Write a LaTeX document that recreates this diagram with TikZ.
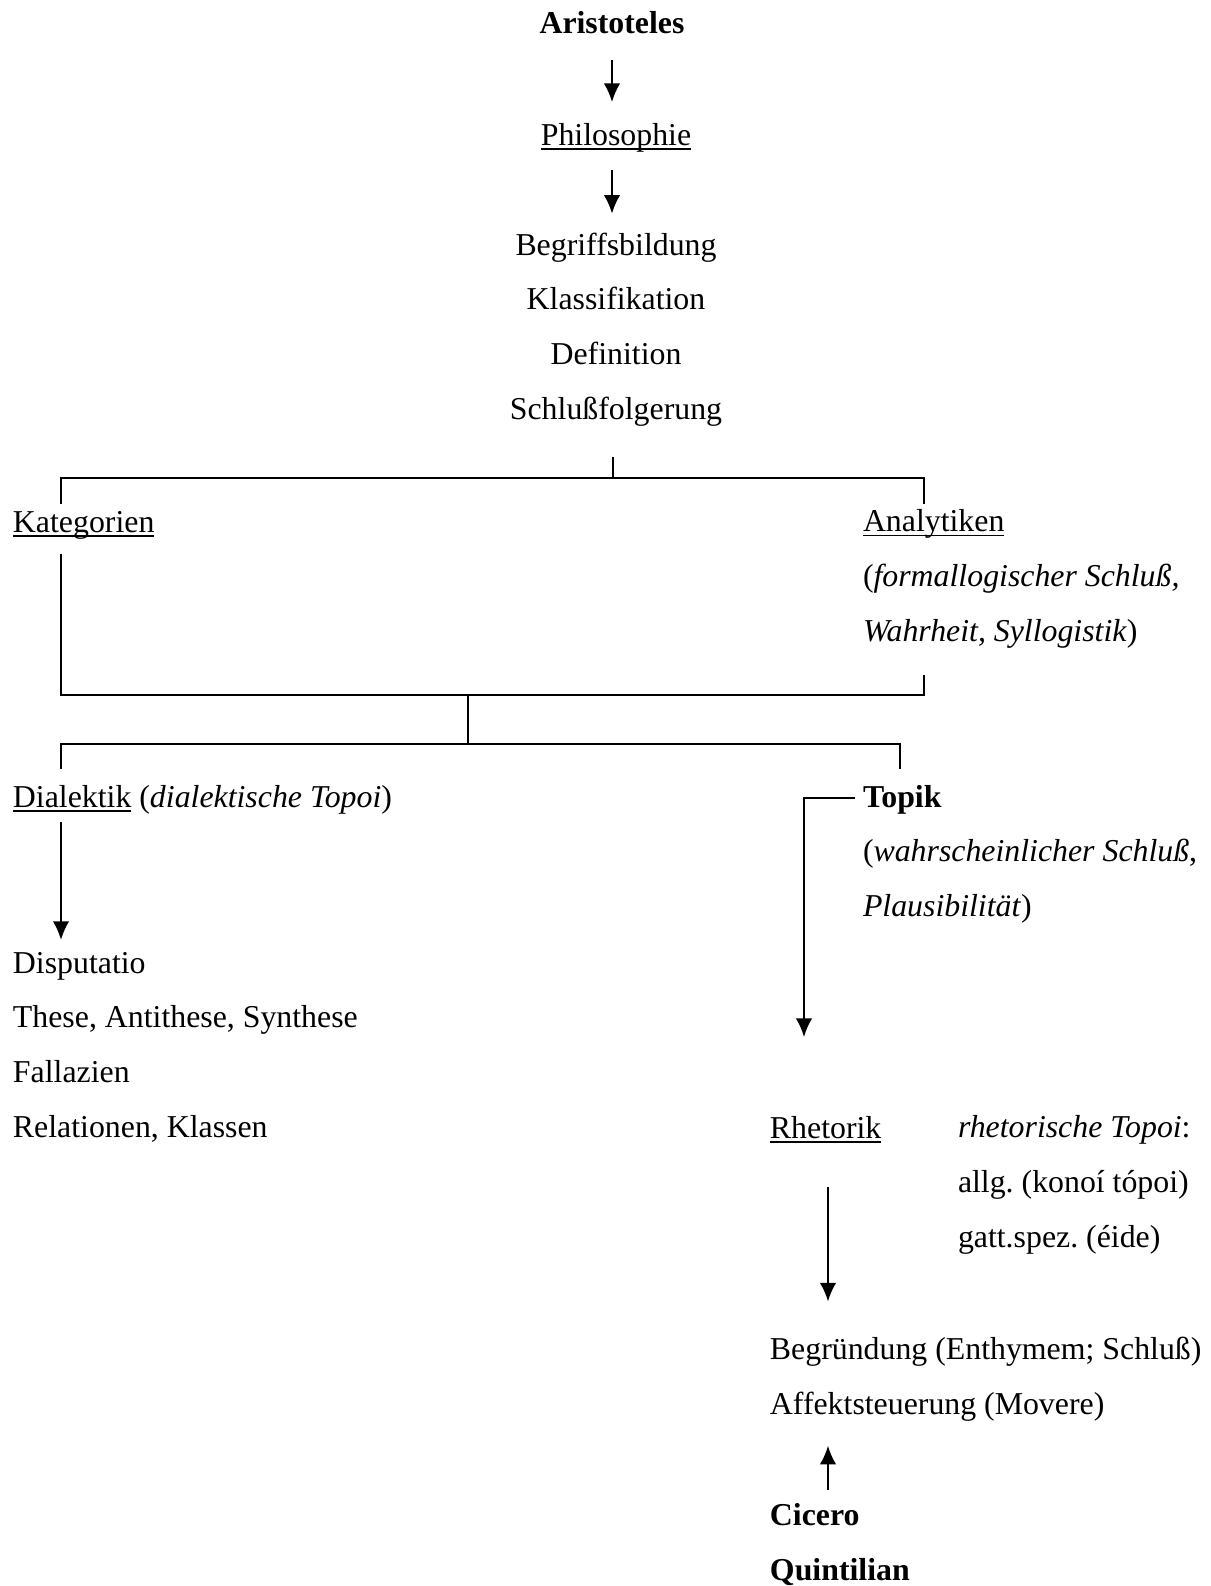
\documentclass[tikz,border=0pt]{standalone}
\usepackage{fontspec}
\setmainfont{Liberation Serif}
\usetikzlibrary{positioning, arrows.meta}

\newcommand{\unterstr}[1]{\setbox0\hbox{#1}\rlap{\rule[-1.7pt]{\wd0}{0.55pt}}\box0\relax}

\begin{document}
\frenchspacing
\begin{tikzpicture}[x=0.377pt, y=-0.377pt, line width=0.75pt,
    every node/.style={inner sep=0pt, font=\fontsize{12}{20.6}\selectfont}]

  \tikzstyle{txt}=[anchor=base west, align=left]
  \tikzstyle{mid}=[anchor=base, align=center]
  \tikzstyle{arr}=[-{Latex[length=7pt, width=6.2pt]}]

  \useasboundingbox (0,0) rectangle (1211,1586);

  % Kopf
  \node [mid] (aristo) at (612,33) {\textbf{Aristoteles}};
  \node [mid] (philo) at (616,145) {\unterstr{Philosophie}};
  \node [mid] (begr) at (616,419) {Begriffsbildung \\ Klassifikation \\ Definition \\ Schlußfolgerung};

  % erste Ebene
  \node [txt] (kat) at (12,532) {\unterstr{Kategorien}};
  \node [txt] (ana) at (862,641) {\unterstr{Analytiken} \\
    (\textit{formallogischer Schluß,} \\ \textit{Wahrheit, Syllogistik})};

  % zweite Ebene
  \node [txt] (dial) at (12,807) {\unterstr{Dialektik} (\textit{dialektische Topoi})};
  \node [txt] (disp) at (12,1137) {Disputatio \\ These, Antithese, Synthese \\ Fallazien \\ Relationen, Klassen};
  \node [txt] (topik) at (862,807) {\textbf{Topik}};
  \node [txt] (topik-d) at (862,916) {(\textit{wahrscheinlicher Schluß}, \\ \textit{Plausibilität})};

  % Rhetorik
  \node [txt] (rhet) at (769,1138) {\unterstr{Rhetorik}};
  \node [txt] (rtop) at (957,1247) {\textit{rhetorische Topoi}: \\ allg. (konoí tópoi) \\ gatt.spez. (éide)};
  \node [txt] (grund) at (769,1414) {Begründung (Enthymem; Schluß) \\ Affektsteuerung (Movere)};
  \node [txt] (cic) at (769,1580) {\textbf{Cicero} \\ \textbf{Quintilian}};

  % Verzweigungen
  \coordinate (s1) at (613,457);
  \coordinate (b1) at (613,478);
  \coordinate (kat-in) at (61,504);
  \coordinate (ana-in) at (924,504);
  \coordinate (kat-out) at (61,554);
  \coordinate (ana-out) at (924,675);
  \coordinate (b2) at (468,695);
  \coordinate (b3) at (468,744);
  \coordinate (dial-in) at (61,769);
  \coordinate (topik-in) at (900,769);
  \coordinate (tk) at (804,1037);

  \draw (s1) -- (b1);
  \draw (kat-in) |- (b1) -| (ana-in);
  \draw (kat-out) |- (b2) -| (ana-out);
  \draw (b2) -- (b3);
  \draw (dial-in) |- (b3) -| (topik-in);

  % Pfeile
  \draw [arr, shorten <=9.8pt, shorten >=7.5pt] (aristo.south) -- (aristo.south |- philo.north);
  \draw [arr, shorten <=6.4pt, shorten >=6.8pt] (philo.south -| aristo) -- (begr.north -| aristo);
  \draw [arr, shorten <=2.6pt, shorten >=4.2pt] (dial.south -| dial-in) -- (disp.north -| dial-in);
  \draw [arr] ([xshift=-2.6pt, yshift=0.4pt]topik.west) -| (tk);
  \draw [arr, shorten <=16.4pt, shorten >=13pt] (rhet.south -| 828,0) -- (grund.north -| 828,0);
  \draw [arr, shorten <=4.7pt, shorten >=9pt] (cic.north -| 828,0) -- (grund.south -| 828,0);
\end{tikzpicture}
\end{document}
